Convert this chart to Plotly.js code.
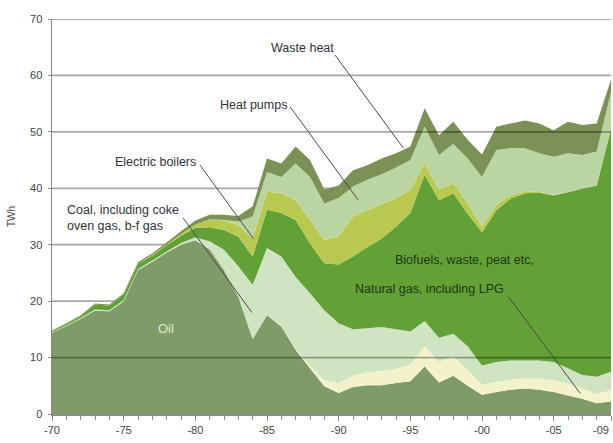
<!DOCTYPE html>
<html>
<head>
<meta charset="utf-8">
<script src="https://cdn.plot.ly/plotly-3.0.1.min.js"></script>
<style>
  html, body { margin: 0; padding: 0; background: #ffffff; }
  #chart { width: 613px; height: 443px; }
</style>
</head>
<body>
<div id="chart"></div>
<script>
// ---- Data (TWh) ----
const years = [1970,1971,1972,1973,1974,1975,1976,1977,1978,1979,
               1980,1981,1982,1983,1984,1985,1986,1987,1988,1989,
               1990,1991,1992,1993,1994,1995,1996,1997,1998,1999,
               2000,2001,2002,2003,2004,2005,2006,2007,2008,2009];

const oil = [14.4,15.6,16.9,18.3,18.2,20.0,25.5,27.0,28.6,30.0,
             30.8,29.2,25.5,20.8,13.3,17.5,15.5,11.4,8.1,4.9,
             3.7,4.8,5.1,5.1,5.5,5.8,8.4,5.6,6.8,5.0,
             3.4,3.9,4.3,4.5,4.3,3.9,3.3,2.7,1.9,2.2];

const naturalGas = [0,0,0,0,0,0,0,0,0,0,
                    0,0,0,0,0,0,0.1,0.2,0.5,1.1,
                    1.8,2.0,2.3,2.5,2.5,3.0,3.6,3.6,3.5,2.8,
                    1.8,1.8,1.8,1.8,2.0,2.1,2.1,1.8,1.7,2.0];

const coal = [0.1,0.1,0.1,0.2,0.2,0.2,0.2,0.2,0.2,0.3,
              0.5,1.4,3.6,5.4,9.6,11.9,12.3,12.7,12.8,12.4,
              10.6,8.2,7.8,7.8,7.0,5.8,4.5,4.3,3.9,4.2,
              3.4,3.5,3.4,3.2,3.2,3.2,2.7,2.4,3.0,3.3];

const biofuels = [0.2,0.3,0.4,0.9,0.8,1.0,0.9,0.9,1.1,1.3,
                  1.7,2.5,3.5,5.2,5.0,6.8,7.7,10.1,8.8,8.3,
                  10.4,12.9,14.4,15.7,18.2,21.0,25.9,24.4,24.9,23.5,
                  23.6,26.9,28.7,29.6,29.7,29.5,31.2,33.0,33.9,43.0];

const electricBoilers = [0,0,0,0,0,0,0,0.1,0.1,0.3,
                         0.6,1.4,1.7,2.1,3.2,3.2,3.5,3.5,4.2,4.1,
                         5.0,7.1,6.5,6.1,5.0,4.1,2.0,1.8,1.8,1.8,
                         1.0,0.9,0.6,0.3,0.2,0.1,0.1,0.1,0.1,0.1];

const heatPumps = [0,0,0,0,0,0,0,0,0,0,
                   0,0,0.1,0.6,3.9,3.5,2.9,6.5,7.6,6.5,
                   6.8,5.3,5.4,5.3,5.5,5.3,6.5,6.2,7.0,8.0,
                   8.8,9.8,8.3,7.7,6.8,6.8,6.8,5.9,5.9,6.4];

const wasteHeat = [0.1,0.1,0.1,0.2,0.2,0.2,0.3,0.3,0.4,0.5,
                   0.7,0.8,0.9,1.0,1.8,2.4,2.4,3.0,3.0,2.5,
                   2.2,2.9,2.6,2.8,2.5,2.4,3.3,3.5,3.9,3.3,
                   4.0,4.1,4.4,4.9,5.3,4.7,5.6,5.3,5.0,2.3];

const xTickVals = [1970,1975,1980,1985,1990,1995,2000,2005,2009];
const xTickText = ['-70','-75','-80','-85','-90','-95','-00','-05','-09'];
const yGridVals = [10,20,30,40,50,60,70];
const yGridAbove = [10,50];

// ---- Series definitions (bottom to top) ----
const series = [
  {name: 'Oil',                                   y: oil,             color: '#7f9b67'},
  {name: 'Natural gas, including LPG',            y: naturalGas,      color: '#f4f2cd'},
  {name: 'Coal, including coke oven gas, b-f gas', y: coal,           color: '#cfe4c1'},
  {name: 'Biofuels, waste, peat etc.',            y: biofuels,        color: '#62a136'},
  {name: 'Electric boilers',                      y: electricBoilers, color: '#b9c94f'},
  {name: 'Heat pumps',                            y: heatPumps,       color: '#bad5a1'},
  {name: 'Waste heat',                            y: wasteHeat,       color: '#7b9156'}
];

const traces = series.map(s => ({
  type: 'scatter',
  x: years,
  y: s.y,
  name: s.name,
  stackgroup: 'one',
  mode: 'none',
  fillcolor: s.color,
  hoverinfo: 'x+y+name'
}));

const FAMILY = '"Liberation Sans", Arial, "DejaVu Sans", sans-serif';
const labelFont = {family: FAMILY, size: 12.5, color: '#333333'};
const tickFont  = {family: FAMILY, size: 11, color: '#444444'};

function lbl(text, x, y, extra) {
  return Object.assign({
    text: text, x: x, y: y, xref: 'x', yref: 'y',
    showarrow: false, font: labelFont, xanchor: 'center', yanchor: 'middle'
  }, extra || {});
}

function leader(x0, y0, x1, y1) {
  return {type: 'line', xref: 'x', yref: 'y', x0: x0, y0: y0, x1: x1, y1: y1,
          line: {color: '#4a4a4a', width: 1}, layer: 'above'};
}

function gridLine(v) {
  const above = yGridAbove.indexOf(v) >= 0;
  return {type: 'line', xref: 'paper', yref: 'y', x0: 0, x1: 1, y0: v, y1: v,
          line: {color: above ? 'rgba(0,0,0,0.34)' : '#a8a8a8', width: 1.8},
          layer: above ? 'above' : 'below'};
}

// last tick label sits at the right edge of the plot: draw it right-aligned
const lastIdx = xTickVals.length - 1;
const axisTickText = xTickText.map((t, i) => i === lastIdx ? '' : t);
const lastTickLabel = {
  text: xTickText[lastIdx], x: xTickVals[lastIdx], xref: 'x',
  y: 0, yref: 'paper', yanchor: 'top', yshift: -8,
  xanchor: 'right', showarrow: false, font: tickFont
};

const layout = {
  width: 613, height: 443,
  margin: {l: 52, r: 2, t: 19, b: 29},
  paper_bgcolor: '#ffffff',
  plot_bgcolor: '#ffffff',
  showlegend: false,
  xaxis: {
    range: [1970, 2009],
    tickmode: 'array',
    tickvals: xTickVals,
    ticktext: axisTickText,
    ticks: 'outside', ticklen: 5, tickcolor: '#8a8a8a', tickwidth: 1,
    minor: {tickmode: 'linear', tick0: 1970, dtick: 1, ticks: 'outside', ticklen: 4, tickcolor: '#8a8a8a', showgrid: false},
    showgrid: false, zeroline: false,
    showline: true, linecolor: '#8a8a8a', linewidth: 1.5,
    tickfont: tickFont,
    fixedrange: true
  },
  yaxis: {
    range: [0, 70],
    dtick: 10,
    ticks: 'outside', ticklen: 3, tickcolor: '#8a8a8a',
    ticklabelstandoff: 3,
    showgrid: false,
    zeroline: false,
    showline: true, linecolor: '#8a8a8a', linewidth: 1.5,
    tickfont: tickFont,
    title: {text: 'TWh', font: {family: FAMILY, size: 10, color: '#444444'}, standoff: 12},
    fixedrange: true
  },
  annotations: [
    lbl('Waste heat', 1987.45, 64.9),
    lbl('Heat pumps', 1984.03, 54.8),
    lbl('Electric boilers', 1977.19, 44.7),
    lbl('Coal, including coke<br>oven gas, b-f gas', 1970.91, 34.65, {xanchor: 'left', align: 'left'}),
    lbl('Oil', 1977.96, 15.1, {font: Object.assign({}, labelFont, {size: 13, color: '#dfe8d2'})}),
    lbl('Biofuels, waste, peat etc,', 1998.75, 27.3, {font: Object.assign({}, labelFont, {color: '#1e3512'})}),
    lbl('Natural gas, including LPG', 1996.31, 22.15, {font: Object.assign({}, labelFont, {color: '#1e3512'})}),
    lastTickLabel
  ],
  shapes: yGridVals.map(gridLine).concat([
    leader(1989.75, 63.6, 1994.52, 47.1),
    leader(1986.62, 54.4, 1991.37, 37.9),
    leader(1980.33, 44.1, 1984.05, 31.1),
    leader(1979.16, 34.7, 1983.94, 18.0),
    leader(2001.84, 20.8, 2006.85, 3.67)
  ])
};

Plotly.newPlot('chart', traces, layout, {displayModeBar: false, staticPlot: true});
</script>
</body>
</html>
